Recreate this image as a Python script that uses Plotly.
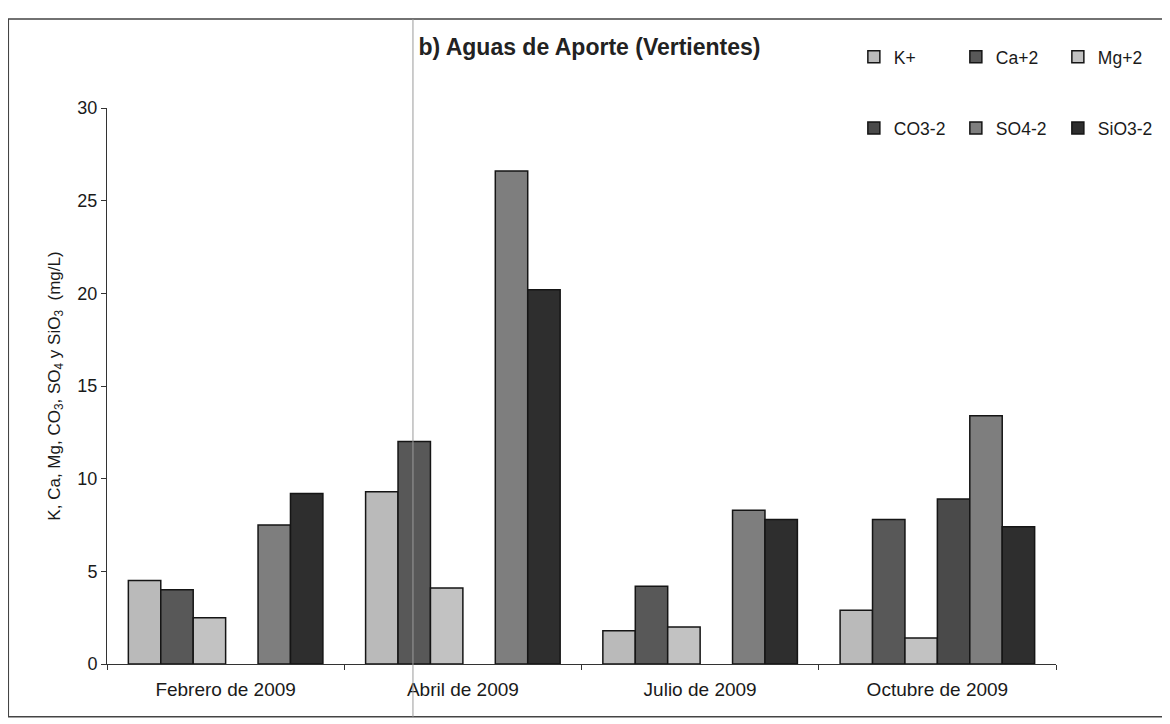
import plotly.graph_objects as go

categories = ["Febrero de 2009", "Abril de 2009", "Julio de 2009", "Octubre de 2009"]
k_vals = [4.5, 9.3, 1.8, 2.9]
ca_vals = [4.0, 12.0, 4.2, 7.8]
mg_vals = [2.5, 4.1, 2.0, 1.4]
co3_vals = [None, None, None, 8.9]
so4_vals = [7.5, 26.6, 8.3, 13.4]
sio3_vals = [9.2, 20.2, 7.8, 7.4]

series = [
    ("K+", k_vals, "#bababa", "legend"),
    ("Ca+2", ca_vals, "#585858", "legend"),
    ("Mg+2", mg_vals, "#c2c2c2", "legend"),
    ("CO3-2", co3_vals, "#4a4a4a", "legend2"),
    ("SO4-2", so4_vals, "#7e7e7e", "legend2"),
    ("SiO3-2", sio3_vals, "#2e2e2e", "legend2"),
]

fig = go.Figure()
for name, vals, col, lg in series:
    fig.add_trace(go.Bar(
        x=categories, y=vals, name=name, legend=lg,
        marker=dict(color=col, line=dict(color="#151515", width=1.5)),
    ))

font_family = "Liberation Sans, Arial, sans-serif"

# the page body adds an 8px offset; margins compensate for it
fig.update_layout(
    width=1170, height=724,
    margin=dict(l=99, r=122, t=100, b=68, autoexpand=False),
    paper_bgcolor="white", plot_bgcolor="white",
    barmode="group", bargap=0.18, bargroupgap=0,
    font=dict(family=font_family, size=17, color="#1a1a1a"),
    title=dict(text="<b>b) Aguas de Aporte (Vertientes)</b>", x=0.497, xanchor="center",
               y=0.946, yanchor="middle", font=dict(size=23, color="#222222")),
    legend=dict(orientation="h", x=0.787, xref="paper", y=1.092, yanchor="middle",
                xanchor="left", entrywidth=57, font=dict(size=17.5),
                itemwidth=30, bgcolor="rgba(0,0,0,0)", traceorder="normal"),
    legend2=dict(orientation="h", x=0.787, xref="paper", y=0.964, yanchor="middle",
                 xanchor="left", entrywidth=57, font=dict(size=17.5),
                 itemwidth=30, bgcolor="rgba(0,0,0,0)", traceorder="normal"),
    showlegend=True,
)

fig.update_yaxes(
    range=[0, 30], dtick=5, showgrid=False, showline=True, linecolor="#333333", linewidth=1,
    ticks="outside", ticklen=5, tickcolor="#333333", zeroline=False,
    tickfont=dict(size=18),
    title=dict(text="K, Ca, Mg, CO<sub>3</sub>, SO<sub>4</sub> y SiO<sub>3</sub>  (mg/L)",
               font=dict(size=17), standoff=12),
)
fig.update_xaxes(
    showgrid=False, showline=True, linecolor="#333333", linewidth=1,
    ticks="outside", ticklen=5, tickcolor="#333333", tickson="boundaries",
    tickfont=dict(size=19), ticklabelstandoff=8,
)

# outer frame
fig.add_shape(type="rect", xref="paper", yref="paper", x0=-0.104, x1=1.118, y0=-0.095, y1=1.160,
              line=dict(color="#444444", width=1.5), fillcolor="rgba(0,0,0,0)", layer="below")
# scan fold line
fig.add_shape(type="line", xref="paper", yref="paper", x0=0.3224, x1=0.3224, y0=-0.095, y1=1.160,
              line=dict(color="#9a9a9a", width=1), layer="above")

fig.write_html("out.html")
